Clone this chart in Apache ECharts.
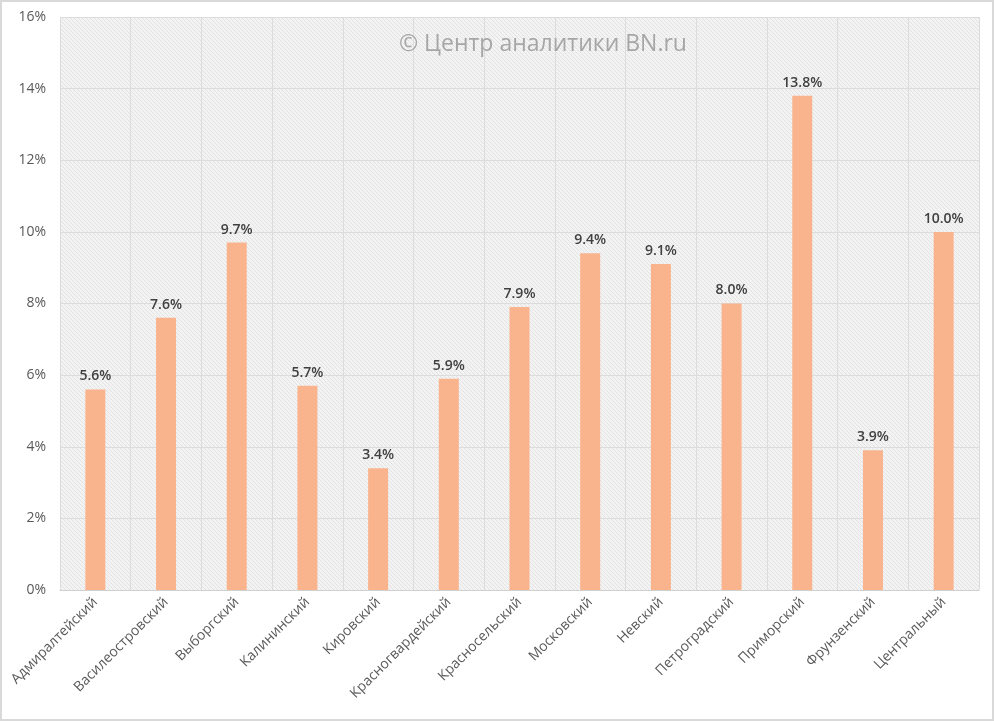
<!DOCTYPE html>
<html>
<head>
<meta charset="utf-8">
<title>Доля по районам</title>
<script src="https://cdn.jsdelivr.net/npm/echarts@6/dist/echarts.min.js"></script>
<style>
  html, body { margin: 0; padding: 0; background: #fff; }
  #main { width: 994px; height: 721px; box-sizing: border-box; border: 2px solid #d9d9d9; }
</style>
</head>
<body>
<div id="main"></div>
<script>
// районы и значения, %
var districts = ['Адмиралтейский', 'Василеостровский', 'Выборгский', 'Калининский', 'Кировский',
  'Красногвардейский', 'Красносельский', 'Московский', 'Невский', 'Петроградский',
  'Приморский', 'Фрунзенский', 'Центральный'];
var shares = [5.6, 7.6, 9.7, 5.7, 3.4, 5.9, 7.9, 9.4, 9.1, 8.0, 13.8, 3.9, 10.0];
var yTicks = [0, 2, 4, 6, 8, 10, 12, 14, 16];

/* штриховка фона области построения */
function hatch() {
  var c = document.createElement('canvas');
  c.width = 4; c.height = 4;
  var ctx = c.getContext('2d');
  ctx.fillStyle = '#f3f3f3';
  ctx.fillRect(0, 0, 4, 4);
  ctx.strokeStyle = '#e2e2e2';
  ctx.lineWidth = 1;
  ctx.beginPath();
  ctx.moveTo(0, 0); ctx.lineTo(4, 4);
  ctx.moveTo(-1, 3); ctx.lineTo(1, 5);
  ctx.moveTo(3, -1); ctx.lineTo(5, 1);
  ctx.stroke();
  return c;
}

var chart = echarts.init(document.getElementById('main'), null, { renderer: 'canvas' });
var option = {
  animation: false,
  textStyle: { fontFamily: '"Open Sans", "Noto Sans", sans-serif' },
  title: {
    text: '© Центр аналитики BN.ru',
    left: 392,
    top: 26,
    textStyle: { color: '#a6a6a6', fontSize: 23, fontWeight: 'normal', fontFamily: '"Open Sans", "Noto Sans", sans-serif' }
  },
  grid: {
    left: 58, right: 13, top: 15, bottom: 129,
    show: true,
    borderWidth: 0,
    backgroundColor: { image: hatch(), repeat: 'repeat' },
    z: 0
  },
  xAxis: {
    type: 'category',
    data: districts,
    axisTick: { show: false },
    axisLine: { lineStyle: { color: '#d0d0d0', width: 1 } },
    axisLabel: { rotate: 45, color: '#595959', fontSize: 14, margin: 10, interval: 0 },
    splitLine: { show: true, lineStyle: { color: '#dcdcdc', width: 1 } }
  },
  yAxis: {
    type: 'value',
    min: yTicks[0],
    max: yTicks[yTicks.length - 1],
    interval: 2,
    axisLine: { show: false },
    axisTick: { show: false },
    axisLabel: { color: '#595959', fontSize: 14, margin: 14, formatter: '{value}%' },
    splitLine: { lineStyle: { color: '#dcdcdc', width: 1 } }
  },
  series: [{
    type: 'bar',
    data: shares,
    barWidth: 20,
    itemStyle: { color: '#f9b48e' },
    label: {
      show: true,
      position: 'top',
      distance: 6,
      color: '#404040',
      fontSize: 14,
      fontWeight: 600,
      formatter: function (p) { return p.value.toFixed(1) + '%'; }
    }
  }]
};
chart.setOption(option);
</script>
</body>
</html>
